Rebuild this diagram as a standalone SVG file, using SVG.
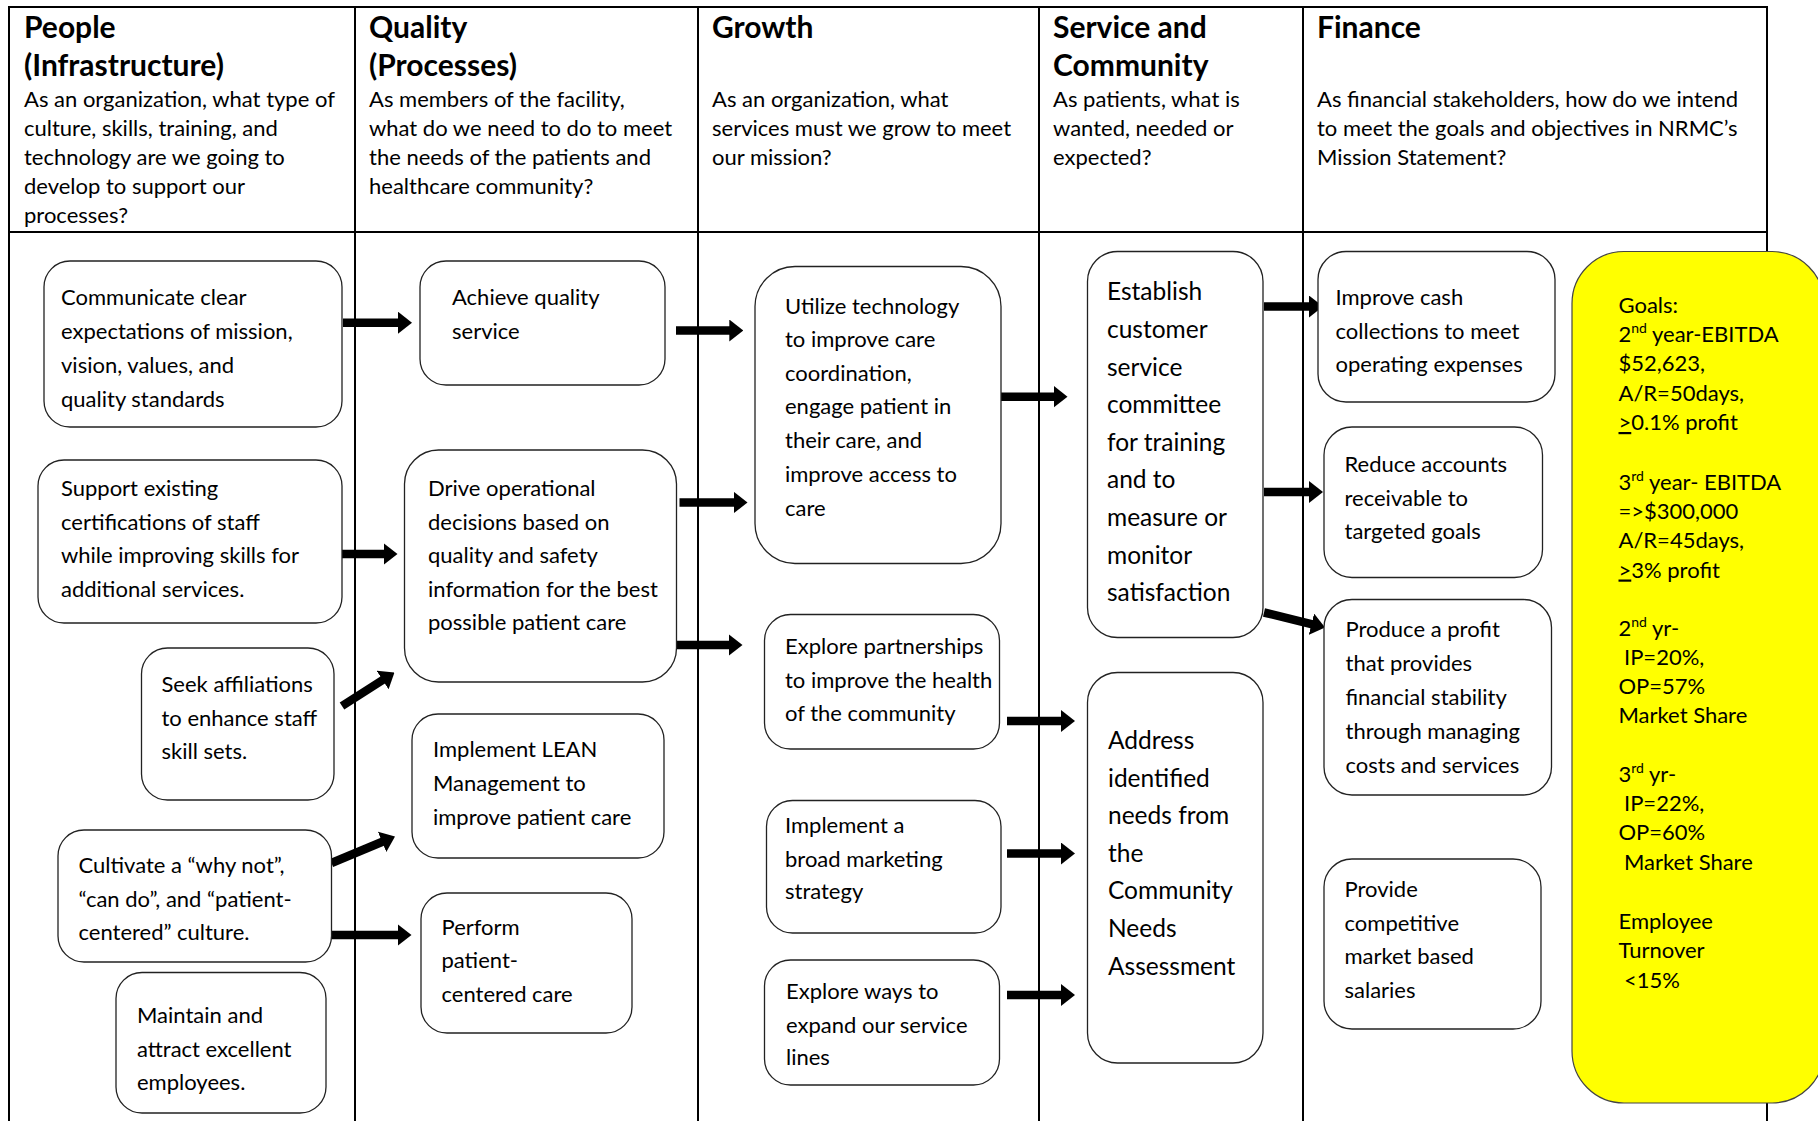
<svg xmlns="http://www.w3.org/2000/svg" width="1818" height="1121" viewBox="0 0 1818 1121">
<style>
.h{font-family:Lato,"Liberation Sans",sans-serif;font-weight:bold;font-size:30px;fill:#000}
.t{font-family:Lato,"Liberation Sans",sans-serif;font-size:22px;fill:#000}
.ts{font-family:Lato,"Liberation Sans",sans-serif;font-size:24.5px;fill:#000}
.box{fill:#fff;stroke:#222;stroke-width:1.3}
.grid{stroke:#000;stroke-width:2;fill:none}
.arr{stroke:#000;stroke-width:8.5;fill:none;marker-end:url(#ah)}
</style>
<defs>
<marker id="ah" markerUnits="userSpaceOnUse" markerWidth="14" markerHeight="22" viewBox="0 0 14 22" refX="1" refY="11" orient="auto">
<path d="M0,0 L14,11 L0,22 Z" fill="#000"/>
</marker>
</defs>
<rect width="1818" height="1121" fill="#fff"/>
<g id="grid">
<line class="grid" x1="9" y1="7" x2="1767" y2="7"/>
<line class="grid" x1="9" y1="232" x2="1767" y2="232"/>
<line class="grid" x1="9" y1="6" x2="9" y2="1121"/>
<line class="grid" x1="355" y1="6" x2="355" y2="1121"/>
<line class="grid" x1="698" y1="6" x2="698" y2="1121"/>
<line class="grid" x1="1039" y1="6" x2="1039" y2="1121"/>
<line class="grid" x1="1303" y1="6" x2="1303" y2="1121"/>
<line class="grid" x1="1767" y1="6" x2="1767" y2="1121"/>
</g>
<g id="headers">
<text class="h" x="24" y="38">People</text>
<text class="h" x="24" y="76">(Infrastructure)</text>
<text class="t" x="24"><tspan x="24" y="107">As an organization, what type of</tspan><tspan x="24" y="136">culture, skills, training, and</tspan><tspan x="24" y="165">technology are we going to</tspan><tspan x="24" y="194">develop to support our</tspan><tspan x="24" y="223">processes?</tspan></text>
<text class="h" x="369" y="38">Quality</text>
<text class="h" x="369" y="76">(Processes)</text>
<text class="t"><tspan x="369" y="107">As members of the facility,</tspan><tspan x="369" y="136">what do we need to do to meet</tspan><tspan x="369" y="165">the needs of the patients and</tspan><tspan x="369" y="194">healthcare community?</tspan></text>
<text class="h" x="712" y="38">Growth</text>
<text class="t"><tspan x="712" y="107">As an organization, what</tspan><tspan x="712" y="136">services must we grow to meet</tspan><tspan x="712" y="165">our mission?</tspan></text>
<text class="h" x="1053" y="38">Service and</text>
<text class="h" x="1053" y="76">Community</text>
<text class="t"><tspan x="1053" y="107">As patients, what is</tspan><tspan x="1053" y="136">wanted, needed or</tspan><tspan x="1053" y="165">expected?</tspan></text>
<text class="h" x="1317" y="38">Finance</text>
<text class="t"><tspan x="1317" y="107">As financial stakeholders, how do we intend</tspan><tspan x="1317" y="136">to meet the goals and objectives in NRMC’s</tspan><tspan x="1317" y="165">Mission Statement?</tspan></text>
</g>
<g id="connectors">
<line class="arr" x1="343" y1="322.7" x2="399" y2="322.7"/>
<line class="arr" x1="340" y1="554" x2="384.5" y2="554"/>
<line class="arr" x1="342" y1="706" x2="383.5" y2="679.5"/>
<line class="arr" x1="331.5" y1="863" x2="383" y2="841.5"/>
<line class="arr" x1="331" y1="935" x2="398.5" y2="935"/>
<line class="arr" x1="676" y1="330.5" x2="730.3" y2="330.5"/>
<line class="arr" x1="679.5" y1="502.5" x2="734.5" y2="502.5"/>
<line class="arr" x1="676" y1="645" x2="729.5" y2="645"/>
<line class="arr" x1="1000" y1="396.7" x2="1054.5" y2="396.7"/>
<line class="arr" x1="1007" y1="721" x2="1062" y2="721"/>
<line class="arr" x1="1007" y1="853.5" x2="1062" y2="853.5"/>
<line class="arr" x1="1007" y1="995" x2="1062" y2="995"/>
<line class="arr" x1="1264" y1="306.5" x2="1310" y2="306.5"/>
<line class="arr" x1="1264" y1="492" x2="1310" y2="492"/>
<line class="arr" x1="1264" y1="612.5" x2="1312.4" y2="624.4"/>
</g>
<g id="n-communicate"><rect class="box" x="44" y="261" width="298" height="166" rx="26"/>
<text class="t"><tspan x="61" y="305">Communicate clear</tspan><tspan x="61" y="339">expectations of mission,</tspan><tspan x="61" y="373">vision, values, and</tspan><tspan x="61" y="407">quality standards</tspan></text></g>
<g id="n-achieve"><rect class="box" x="420" y="261" width="245" height="124" rx="26"/>
<text class="t"><tspan x="452" y="305">Achieve quality</tspan><tspan x="452" y="339">service</tspan></text></g>
<g id="n-support"><rect class="box" x="38" y="460" width="304" height="163" rx="26"/>
<text class="t"><tspan x="61" y="496">Support existing</tspan><tspan x="61" y="530">certifications of staff</tspan><tspan x="61" y="563">while improving skills for</tspan><tspan x="61" y="597">additional services.</tspan></text></g>
<g id="n-drive"><rect class="box" x="404.5" y="450" width="272" height="232" rx="34"/>
<text class="t"><tspan x="428" y="496">Drive operational</tspan><tspan x="428" y="530">decisions based on</tspan><tspan x="428" y="563">quality and safety</tspan><tspan x="428" y="597">information for the best</tspan><tspan x="428" y="630">possible patient care</tspan></text></g>
<g id="n-seek"><rect class="box" x="141.5" y="648" width="192.5" height="152" rx="26"/>
<text class="t"><tspan x="161.5" y="692">Seek affiliations</tspan><tspan x="161.5" y="726">to enhance staff</tspan><tspan x="161.5" y="759">skill sets.</tspan></text></g>
<g id="n-lean"><rect class="box" x="412" y="714" width="252" height="144" rx="26"/>
<text class="t"><tspan x="433" y="757">Implement LEAN</tspan><tspan x="433" y="791">Management to</tspan><tspan x="433" y="825">improve patient care</tspan></text></g>
<g id="n-cultivate"><rect class="box" x="58" y="830" width="273.5" height="132" rx="26"/>
<text class="t"><tspan x="78.5" y="873">Cultivate a “why not”,</tspan><tspan x="78.5" y="907">“can do”, and “patient-</tspan><tspan x="78.5" y="940">centered” culture.</tspan></text></g>
<g id="n-perform"><rect class="box" x="421" y="893" width="211" height="140" rx="26"/>
<text class="t"><tspan x="441.5" y="935">Perform</tspan><tspan x="441.5" y="968">patient-</tspan><tspan x="441.5" y="1002">centered care</tspan></text></g>
<g id="n-maintain"><rect class="box" x="116" y="972.5" width="210" height="140.5" rx="26"/>
<text class="t"><tspan x="137" y="1023">Maintain and</tspan><tspan x="137" y="1057">attract excellent</tspan><tspan x="137" y="1090">employees.</tspan></text></g>
<g id="n-utilize"><rect class="box" x="755" y="266.5" width="246" height="297" rx="40"/>
<text class="t"><tspan x="785" y="314">Utilize technology</tspan><tspan x="785" y="347">to improve care</tspan><tspan x="785" y="381">coordination,</tspan><tspan x="785" y="414">engage patient in</tspan><tspan x="785" y="448">their care, and</tspan><tspan x="785" y="482">improve access to</tspan><tspan x="785" y="516">care</tspan></text></g>
<g id="n-establish"><rect class="box" x="1087.5" y="251.5" width="175.5" height="386" rx="30"/>
<text class="ts"><tspan x="1107" y="300">Establish</tspan><tspan x="1107" y="338">customer</tspan><tspan x="1107" y="375.5">service</tspan><tspan x="1107" y="413">committee</tspan><tspan x="1107" y="451">for training</tspan><tspan x="1107" y="488">and to</tspan><tspan x="1107" y="526">measure or</tspan><tspan x="1107" y="563.5">monitor</tspan><tspan x="1107" y="601">satisfaction</tspan></text></g>
<g id="n-partnerships"><rect class="box" x="764.5" y="614.5" width="235" height="134.5" rx="26"/>
<text class="t"><tspan x="785" y="654">Explore partnerships</tspan><tspan x="785" y="688">to improve the health</tspan><tspan x="785" y="721">of the community</tspan></text></g>
<g id="n-marketing"><rect class="box" x="766.5" y="800.5" width="234.5" height="132.5" rx="26"/>
<text class="t"><tspan x="785" y="833">Implement a</tspan><tspan x="785" y="867">broad marketing</tspan><tspan x="785" y="899">strategy</tspan></text></g>
<g id="n-expand"><rect class="box" x="764.5" y="960" width="235" height="125" rx="26"/>
<text class="t"><tspan x="786" y="999">Explore ways to</tspan><tspan x="786" y="1032.5">expand our service</tspan><tspan x="786" y="1065">lines</tspan></text></g>
<g id="n-address"><rect class="box" x="1087.5" y="672.5" width="175.5" height="390.5" rx="30"/>
<text class="ts"><tspan x="1108" y="749">Address</tspan><tspan x="1108" y="787">identified</tspan><tspan x="1108" y="824">needs from</tspan><tspan x="1108" y="861.5">the</tspan><tspan x="1108" y="899">Community</tspan><tspan x="1108" y="936.5">Needs</tspan><tspan x="1108" y="974.5">Assessment</tspan></text></g>
<g id="n-cash"><rect class="box" x="1318" y="251.5" width="237" height="150.5" rx="28"/>
<text class="t"><tspan x="1335.5" y="305">Improve cash</tspan><tspan x="1335.5" y="338.5">collections to meet</tspan><tspan x="1335.5" y="372">operating expenses</tspan></text></g>
<g id="n-reduce"><rect class="box" x="1324" y="427" width="218.5" height="150.5" rx="28"/>
<text class="t"><tspan x="1344.5" y="472">Reduce accounts</tspan><tspan x="1344.5" y="506">receivable to</tspan><tspan x="1344.5" y="539">targeted goals</tspan></text></g>
<g id="n-profit"><rect class="box" x="1324" y="599.5" width="227.5" height="195.5" rx="28"/>
<text class="t"><tspan x="1345.5" y="637">Produce a profit</tspan><tspan x="1345.5" y="671">that provides</tspan><tspan x="1345.5" y="705">financial stability</tspan><tspan x="1345.5" y="739">through managing</tspan><tspan x="1345.5" y="772.5">costs and services</tspan></text></g>
<g id="n-salaries"><rect class="box" x="1324" y="859" width="217" height="170" rx="28"/>
<text class="t"><tspan x="1344.5" y="897">Provide</tspan><tspan x="1344.5" y="931">competitive</tspan><tspan x="1344.5" y="964">market based</tspan><tspan x="1344.5" y="998">salaries</tspan></text></g>
<g id="n-goals"><rect x="1572" y="251.5" width="252" height="851.5" rx="52" fill="#ffff00" stroke="#444" stroke-width="1.2"/>
<text class="t">
<tspan x="1618.5" y="313">Goals:</tspan>
<tspan x="1618.5" y="342">2</tspan><tspan dy="-9" font-size="14">nd</tspan><tspan dy="9"> year-EBITDA</tspan>
<tspan x="1618.5" y="371">$52,623,</tspan>
<tspan x="1618.5" y="400.5">A/R=50days,</tspan>
<tspan x="1618.5" y="430" text-decoration="underline">&gt;</tspan><tspan>0.1% profit</tspan>
<tspan x="1618.5" y="489.5">3</tspan><tspan dy="-9" font-size="14">rd</tspan><tspan dy="9"> year- EBITDA</tspan>
<tspan x="1618.5" y="518.5">=&gt;$300,000</tspan>
<tspan x="1618.5" y="548">A/R=45days,</tspan>
<tspan x="1618.5" y="577.5" text-decoration="underline">&gt;</tspan><tspan>3% profit</tspan>
<tspan x="1618.5" y="636">2</tspan><tspan dy="-9" font-size="14">nd</tspan><tspan dy="9"> yr-</tspan>
<tspan x="1624" y="665">IP=20%,</tspan>
<tspan x="1618.5" y="694">OP=57%</tspan>
<tspan x="1618.5" y="723">Market Share</tspan>
<tspan x="1618.5" y="782">3</tspan><tspan dy="-9" font-size="14">rd</tspan><tspan dy="9"> yr-</tspan>
<tspan x="1624" y="811">IP=22%,</tspan>
<tspan x="1618.5" y="840">OP=60%</tspan>
<tspan x="1624" y="869.5">Market Share</tspan>
<tspan x="1618.5" y="929">Employee</tspan>
<tspan x="1618.5" y="958">Turnover</tspan>
<tspan x="1624" y="987.5">&lt;15%</tspan>
</text></g>
</svg>
